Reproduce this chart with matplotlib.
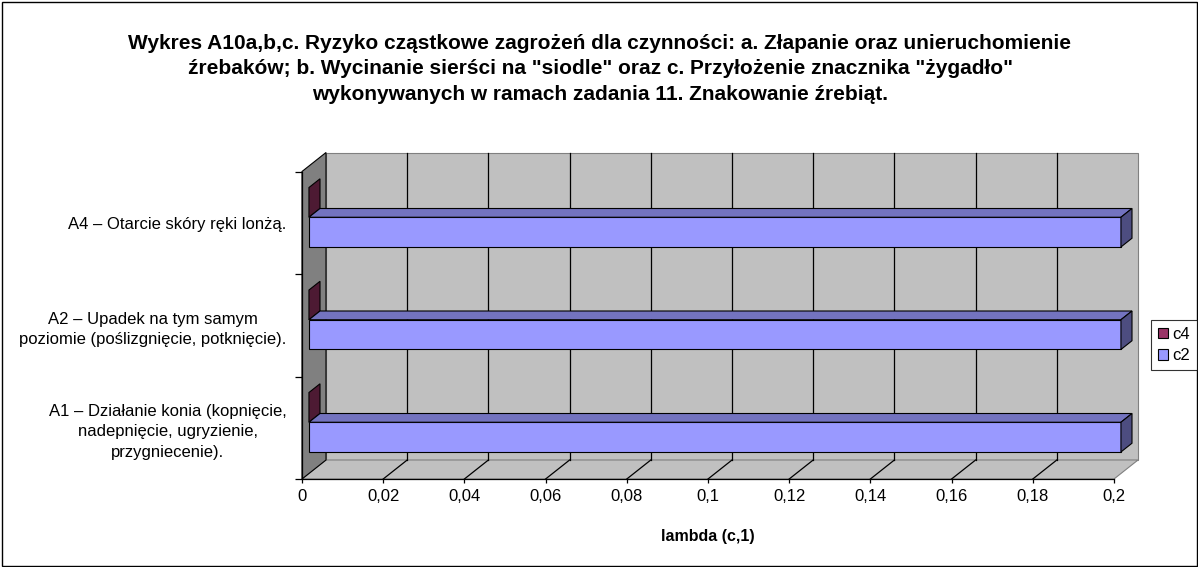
"""Wykres A10a,b,c - odtworzenie wykresu słupkowego 3D (styl Excel)."""
import matplotlib.pyplot as plt
from matplotlib.patches import Polygon, Patch, Rectangle

plt.rcParams['font.family'] = ['Liberation Sans', 'DejaVu Sans']

# Dane (od dołu do góry, jak w wykresie słupkowym)
categories = [
    "A1 – Działanie konia (kopnięcie,\nnadepnięcie, ugryzienie,\nprzygniecenie).",
    "A2 – Upadek na tym samym\npoziomie (poślizgnięcie, potknięcie).",
    "A4 – Otarcie skóry ręki lonżą.",
]
c2_values = [0.2, 0.2, 0.2]
c4_values = [0.0, 0.0, 0.0]
x_ticks = [0, 0.02, 0.04, 0.06, 0.08, 0.1, 0.12, 0.14, 0.16, 0.18, 0.2]
x_tick_labels = ["0", "0,02", "0,04", "0,06", "0,08", "0,1", "0,12",
                 "0,14", "0,16", "0,18", "0,2"]
title = ('Wykres A10a,b,c. Ryzyko cząstkowe zagrożeń dla czynności: '
         'a. Złapanie oraz unieruchomienie\n'
         'źrebaków; b. Wycinanie sierści na "siodle" oraz c. Przyłożenie '
         'znacznika "żygadło"\n'
         'wykonywanych w ramach zadania 11. Znakowanie źrebiąt.')

W, H = 1198, 567
fig = plt.figure(figsize=(W / 100, H / 100), dpi=100)
fig.patch.set_facecolor("white")

# przednia płaszczyzna osi (w pikselach)
x0_px, x1_px, yb_px, yt_px = 302, 1114, 479, 171.5
ax = fig.add_axes([x0_px / W, (H - yb_px) / H,
                   (x1_px - x0_px) / W, (yb_px - yt_px) / H])
xmax = x_ticks[-1]
ncat = len(categories)
ax.set_xlim(0, xmax)
ax.set_ylim(0, ncat)
ax.patch.set_alpha(0)

# głębokość 3D w jednostkach danych
DX = 24 / (x1_px - x0_px) * xmax
DY = 19 / ((yb_px - yt_px) / ncat)


def proj(v, y, z):
    return (v + z * DX, y + z * DY)


def face(pts, fc, ec="black", lw=0.8, z=1):
    ax.add_patch(Polygon([proj(*p) for p in pts], closed=True, fc=fc,
                         ec=ec, lw=lw, clip_on=False, zorder=z))


# ściany
face([(0, 0, 1), (xmax, 0, 1), (xmax, ncat, 1), (0, ncat, 1)],
     "#C0C0C0", ec="#808080", z=0.5)
face([(0, 0, 0), (xmax, 0, 0), (xmax, 0, 1), (0, 0, 1)],
     "#C0C0C0", ec="#808080", z=0.5)
face([(0, 0, 0), (0, 0, 1), (0, ncat, 1), (0, ncat, 0)],
     "#808080", ec="black", z=0.6)

# linie siatki
for t in x_ticks[1:-1]:
    ax.plot(*zip(proj(t, 0, 1), proj(t, ncat, 1)), color="black", lw=0.9,
            clip_on=False, zorder=0.7)
    ax.plot(*zip(proj(t, 0, 0), proj(t, 0, 1)), color="black", lw=0.9,
            clip_on=False, zorder=0.7)

# słupki
bar_h = 0.29
z_front, z_back = 0.29, 0.75
series = [  # (wartości, kolor przód, góra, bok), górny najpierw
    (c4_values, "#993366", "#732650", "#4D1A33"),
    (c2_values, "#9999FF", "#7373BF", "#4D4D80"),
]
zo = 1
for i in reversed(range(ncat)):
    base = i + (1 - 2 * bar_h) / 2
    for k, (vals, c_front, c_top, c_side) in enumerate(series):
        v = vals[i]
        y0 = base + (1 - k) * bar_h
        y1 = y0 + bar_h
        if v > 0:
            face([(0, y0, z_front), (v, y0, z_front), (v, y1, z_front),
                  (0, y1, z_front)], c_front, z=zo)
            face([(0, y1, z_front), (v, y1, z_front), (v, y1, z_back),
                  (0, y1, z_back)], c_top, z=zo)
        face([(v, y0, z_front), (v, y0, z_back), (v, y1, z_back),
              (v, y1, z_front)], c_side, z=zo)
        zo += 0.01

# osie
for s in ["top", "right"]:
    ax.spines[s].set_visible(False)
for s in ["left", "bottom"]:
    ax.spines[s].set_color("black")
    ax.spines[s].set_linewidth(0.9)
    ax.spines[s].set_zorder(3)
ax.set_xticks(x_ticks)
ax.set_xticklabels(x_tick_labels)
ax.tick_params(axis="x", length=3, width=0.9, pad=4, labelsize=12)
ax.set_yticks(range(ncat + 1))
ax.set_yticklabels([])
ax.set_yticks([i + 0.5 for i in range(ncat)], minor=True)
ax.set_yticklabels(categories, minor=True, multialignment="center",
                   linespacing=1.45)
ax.tick_params(axis="y", which="major", length=5, width=0.9)
ax.tick_params(axis="y", which="minor", length=0, pad=11, labelsize=12)

fig.text(708 / W, 1 - 536 / H, "lambda (c,1)", ha="center", va="center",
         fontsize=11.5, fontweight="bold")
fig.text(600 / W, 1 - 69 / H, title, ha="center", va="center",
         fontsize=15, fontweight="bold", linespacing=1.45)

handles = [Patch(fc="#993366", ec="black", lw=0.8),
           Patch(fc="#9999FF", ec="black", lw=0.8)]
leg = fig.legend(handles, ["c4", "c2"], loc="center left",
                 bbox_to_anchor=(1151 / W, 1 - 345 / H), frameon=True,
                 fancybox=False, edgecolor="black", fontsize=12,
                 handlelength=0.6, handleheight=0.6, handletextpad=0.3,
                 borderpad=0.4, labelspacing=0.4, borderaxespad=0)
leg.get_frame().set_linewidth(0.8)

fig.add_artist(Rectangle((1.5 / W, 1.5 / H), 1 - 3 / W, 1 - 3 / H,
                         transform=fig.transFigure, fill=False,
                         ec="black", lw=1))

fig.savefig("out.png", dpi=100)
